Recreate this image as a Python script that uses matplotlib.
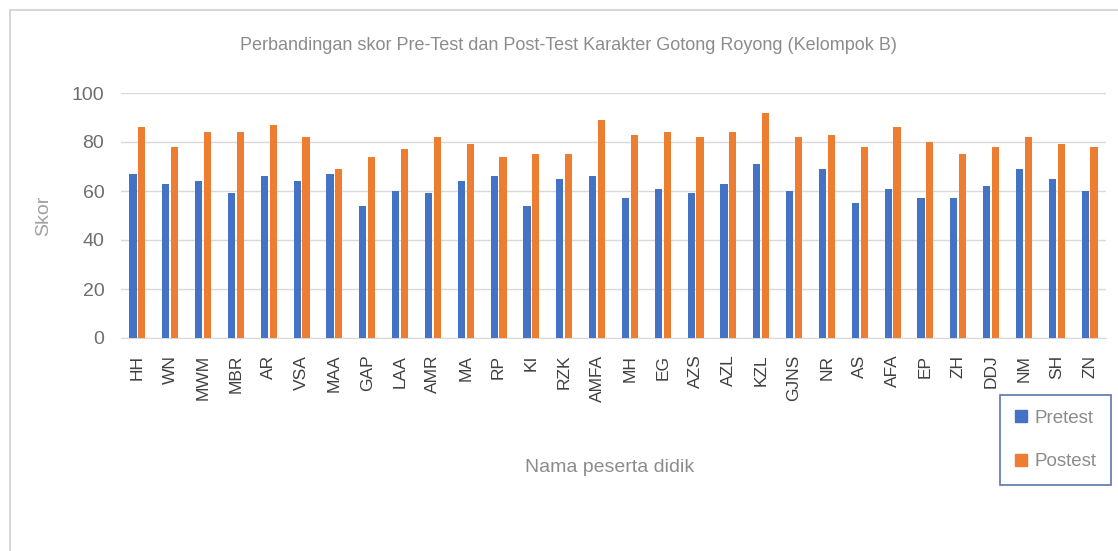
import numpy as np
import matplotlib
matplotlib.use('Agg')
import matplotlib.pyplot as plt
from matplotlib.patches import Rectangle, Patch

names = ['HH', 'WN', 'MWM', 'MBR', 'AR', 'VSA', 'MAA', 'GAP', 'LAA', 'AMR',
         'MA', 'RP', 'KI', 'RZK', 'AMFA', 'MH', 'EG', 'AZS', 'AZL', 'KZL',
         'GJNS', 'NR', 'AS', 'AFA', 'EP', 'ZH', 'DDJ', 'NM', 'SH', 'ZN']
pretest = [67, 63, 64, 59, 66, 64, 67, 54, 60, 59,
           64, 66, 54, 65, 66, 57, 61, 59, 63, 71,
           60, 69, 55, 61, 57, 57, 62, 69, 65, 60]
postest = [86, 78, 84, 84, 87, 82, 69, 74, 77, 82,
           79, 74, 75, 75, 89, 83, 84, 82, 84, 92,
           82, 83, 78, 86, 80, 75, 78, 82, 79, 78]

blue = '#4472C4'
orange = '#ED7D31'
txt = '#8C8C8C'

plt.rcParams['font.family'] = ['Liberation Sans', 'DejaVu Sans']

fig = plt.figure(figsize=(11.18, 5.51), dpi=100)
# outer chart border
fig.patches.append(Rectangle((10 / 1118, -0.01), 1.05, 1 - 10 / 551 + 0.01,
                             transform=fig.transFigure, fill=False,
                             edgecolor='#D0D0D0', linewidth=1.2))

ax = fig.add_axes([121 / 1118, 1 - 338 / 551, (1106 - 121) / 1118, (338 - 93) / 551])
x = np.arange(len(names))
w = 0.22
ax.bar(x - 0.135, pretest, w, color=blue, label='Pretest', zorder=3)
ax.bar(x + 0.135, postest, w, color=orange, label='Postest', zorder=3)

ax.set_xlim(-0.5, len(names) - 0.5)
ax.set_ylim(0, 100)
ax.set_yticks(range(0, 101, 20))
ax.grid(axis='y', color='#D9D9D9', linewidth=1, zorder=0)
for s in ['top', 'right', 'left']:
    ax.spines[s].set_visible(False)
ax.spines['bottom'].set_color('#D9D9D9')
ax.tick_params(axis='both', length=0)
ax.set_xticks(x)
ax.set_xticklabels(names, rotation=90, fontsize=12.5, color='#404040')
ax.tick_params(axis='x', pad=12)
ax.tick_params(axis='y', labelsize=14, pad=12, labelcolor='#6E6E6E')

ax.set_ylabel('Skor', fontsize=14, color='#A0A0A0', labelpad=14)
fig.text(610 / 1118, 1 - 468 / 551, 'Nama peserta didik', fontsize=14,
         color=txt, ha='center', va='center')
fig.text(568 / 1118, 1 - 46 / 551,
         'Perbandingan skor Pre-Test dan Post-Test Karakter Gotong Royong (Kelompok B)',
         fontsize=13, color=txt, ha='center', va='center')

handles = [Patch(color=blue), Patch(color=orange)]
leg = fig.legend(handles, ['Pretest', 'Postest'], loc='upper right',
                 bbox_to_anchor=(1111 / 1118, 1 - 395 / 551),
                 frameon=True, fancybox=False, fontsize=13.5,
                 labelspacing=1.4, handlelength=0.6, handleheight=0.6,
                 handletextpad=0.4, borderpad=0.8, borderaxespad=0,
                 labelcolor=txt)
leg.get_frame().set_edgecolor('#2F5597')
leg.get_frame().set_linewidth(1.2)

fig.savefig('out.png', dpi=100)
